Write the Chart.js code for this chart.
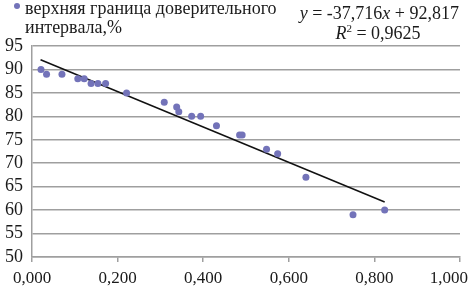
<!DOCTYPE html>
<html>
<head>
<meta charset="utf-8">
<script src="https://cdn.jsdelivr.net/npm/chart.js@4/dist/chart.umd.min.js"></script>
<style>
  html, body { margin: 0; padding: 0; background: #fff; }
  #wrap { width: 468px; height: 293px; }
</style>
</head>
<body>
<div id="wrap"><canvas id="ciChart" width="468" height="293"></canvas></div>
<script>
  // values
  const xValues = [0.021, 0.034, 0.070, 0.107, 0.122, 0.138, 0.154, 0.172, 0.221, 0.309, 0.338,
                   0.343, 0.373, 0.394, 0.431, 0.485, 0.491, 0.548, 0.574, 0.640, 0.750, 0.824];
  const yValues = [90, 89, 89, 88, 88, 87, 87, 87, 85, 83, 82,
                   81, 80, 80, 78, 76, 76, 73, 72, 67, 59, 60];
  // linear trend endpoints
  const trendX = [0.020, 0.824];
  const trendY = [92.06, 61.74];
  const xTickLabels = ['0,000', '0,200', '0,400', '0,600', '0,800', '1,000'];
  const seriesLabel = ['верхняя граница доверительного', 'интервала,%'];

  const pointColor = '#7373b9';
  const gridColor = '#9f9f9f';
  const serif = '"Liberation Serif", "Times New Roman", serif';

  // x labels drawn by hand so the last one stays inside the canvas
  const xLabelsPlugin = {
    id: 'xLabels',
    afterDraw(chart) {
      const ctx = chart.ctx;
      const scale = chart.scales.x;
      ctx.save();
      ctx.font = '17px ' + serif;
      ctx.fillStyle = '#1a1a1a';
      ctx.textAlign = 'center';
      ctx.textBaseline = 'alphabetic';
      scale.ticks.forEach(function (t, i) {
        const txt = xTickLabels[i];
        const w = ctx.measureText(txt).width;
        let px = scale.getPixelForValue(t.value);
        px = Math.min(px, chart.width - w / 2);
        ctx.fillText(txt, px, 283);
      });
      ctx.restore();
    }
  };

  function drawRuns(ctx, runs, x, y, align) {
    let total = 0;
    runs.forEach(function (r) {
      ctx.font = (r.italic ? 'italic ' : '') + r.size + 'px ' + serif;
      r.w = ctx.measureText(r.t).width;
      total += r.w;
    });
    let cx = align === 'right' ? x - total : (align === 'center' ? x - total / 2 : x);
    runs.forEach(function (r) {
      ctx.font = (r.italic ? 'italic ' : '') + r.size + 'px ' + serif;
      ctx.fillText(r.t, cx, y + (r.dy || 0));
      cx += r.w;
    });
  }

  // legend in the top left and trend equation in the top right
  const headerPlugin = {
    id: 'header',
    afterDraw(chart) {
      const ctx = chart.ctx;
      ctx.save();
      ctx.fillStyle = pointColor;
      ctx.beginPath();
      ctx.arc(17, 6, 3, 0, Math.PI * 2);
      ctx.fill();
      ctx.fillStyle = '#1a1a1a';
      ctx.textAlign = 'left';
      ctx.textBaseline = 'alphabetic';
      ctx.font = '18px ' + serif;
      ctx.fillText(seriesLabel[0], 25, 14);
      ctx.fillText(seriesLabel[1], 25, 33);
      drawRuns(ctx, [
        { t: 'y', italic: true, size: 18 },
        { t: ' = -37,716', size: 18 },
        { t: 'x', italic: true, size: 18 },
        { t: ' + 92,817', size: 18 }
      ], 459, 19, 'right');
      drawRuns(ctx, [
        { t: 'R', italic: true, size: 18 },
        { t: '2', size: 11, dy: -7 },
        { t: ' = 0,9625', size: 18 }
      ], 378, 39, 'center');
      ctx.restore();
    }
  };

  const ctx = document.getElementById('ciChart').getContext('2d');
  new Chart(ctx, {
    type: 'scatter',
    data: {
      datasets: [
        {
          label: seriesLabel.join(' '),
          data: xValues.map(function (x, i) { return { x: x, y: yValues[i] }; }),
          backgroundColor: pointColor,
          borderWidth: 0,
          pointRadius: 3.5
        },
        {
          label: 'trend',
          data: trendX.map(function (x, i) { return { x: x, y: trendY[i] }; }),
          showLine: true,
          borderColor: '#111111',
          borderWidth: 1.5,
          pointRadius: 0
        }
      ]
    },
    options: {
      responsive: false,
      animation: false,
      devicePixelRatio: 1,
      layout: { padding: { top: 46, right: 8, left: 0, bottom: 0 } },
      plugins: {
        legend: { display: false },
        tooltip: { enabled: false }
      },
      scales: {
        x: {
          type: 'linear',
          min: 0,
          max: 1,
          ticks: { stepSize: 0.2, display: false },
          grid: { drawOnChartArea: false, drawTicks: true, tickLength: 5, color: gridColor, lineWidth: 1.5 },
          border: { display: true, color: gridColor, width: 1.5 },
          afterFit: function (s) { s.height = 36; s.paddingLeft = 0; s.paddingRight = 0; }
        },
        y: {
          min: 50,
          max: 95,
          ticks: {
            stepSize: 5,
            autoSkip: false,
            padding: 9,
            color: '#1a1a1a',
            font: { family: serif, size: 18 }
          },
          grid: { drawTicks: false, color: gridColor, lineWidth: 1.5 },
          border: { display: true, color: gridColor, width: 1.5 },
          afterFit: function (s) { s.width = 32; }
        }
      }
    },
    plugins: [xLabelsPlugin, headerPlugin]
  });
</script>
</body>
</html>
